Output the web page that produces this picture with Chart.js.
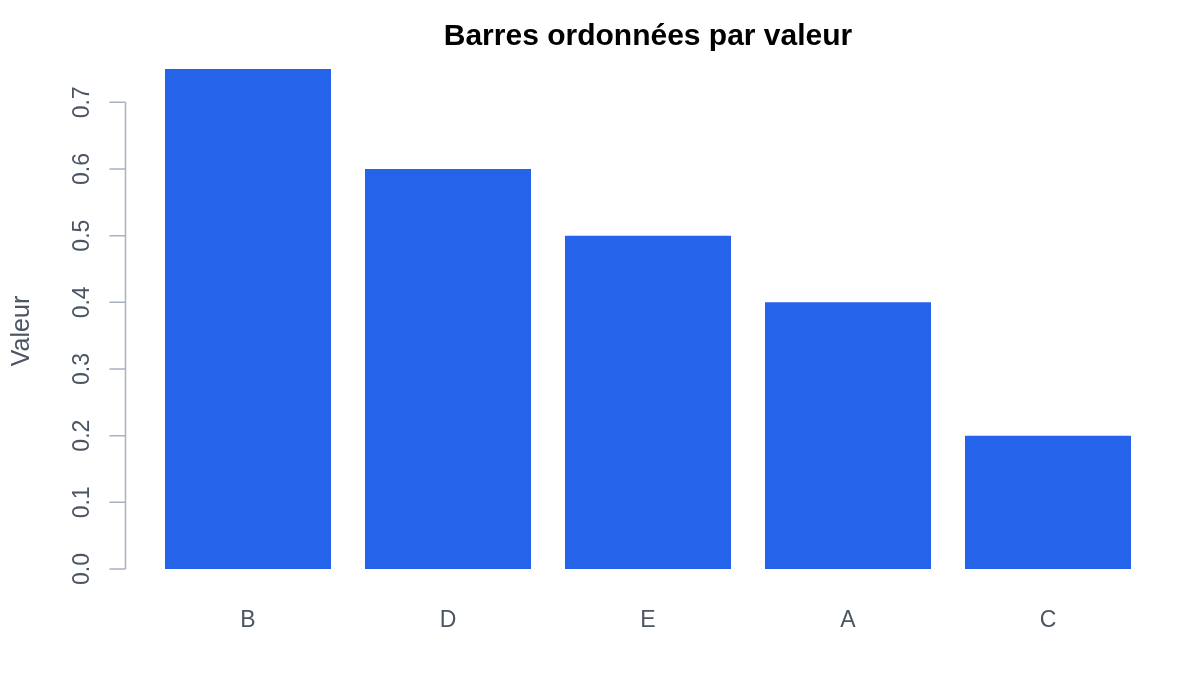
<!DOCTYPE html>
<html>
<head>
<meta charset="UTF-8">
<title>Barres ordonnées par valeur</title>
<script src="https://cdn.jsdelivr.net/npm/chart.js@4.4.1/dist/chart.umd.min.js"></script>
<style>
    html, body { margin: 0; padding: 0; background: #ffffff; }
    #wrap { width: 1200px; height: 700px; }
</style>
</head>
<body>
<div id="wrap"><canvas id="bars"></canvas></div>
<script>
    // data, already sorted by value
    var categories = ['B', 'D', 'E', 'A', 'C'];
    var values = [0.75, 0.6, 0.5, 0.4, 0.2];
    var yTicks = [0.0, 0.1, 0.2, 0.3, 0.4, 0.5, 0.6, 0.7];
    var yTitle = 'Valeur';

    var family = '"Liberation Sans", Helvetica, Arial, sans-serif';
    var textColor = '#4b5563';
    var axisColor = '#a9b1be';

    // R style y axis: detached line, outward ticks, rotated labels
    var leftAxis = {
        id: 'leftAxis',
        afterDraw: function (chart) {
            var ctx = chart.ctx;
            var y = chart.scales.y;
            var ax = chart.chartArea.left - 22.5;
            var top = y.getPixelForValue(yTicks[yTicks.length - 1]);
            var bot = y.getPixelForValue(yTicks[0]);
            ctx.save();
            ctx.strokeStyle = axisColor;
            ctx.lineWidth = 1.5;
            ctx.beginPath();
            ctx.moveTo(ax, top);
            ctx.lineTo(ax, bot);
            yTicks.forEach(function (v) {
                var py = y.getPixelForValue(v);
                ctx.moveTo(ax - 16, py);
                ctx.lineTo(ax, py);
            });
            ctx.stroke();

            ctx.fillStyle = textColor;
            ctx.font = '23px ' + family;
            ctx.textAlign = 'center';
            ctx.textBaseline = 'middle';
            yTicks.forEach(function (v) {
                var py = y.getPixelForValue(v);
                ctx.save();
                ctx.translate(ax - 43, py);
                ctx.rotate(-Math.PI / 2);
                ctx.fillText(v.toFixed(1), 0, 0);
                ctx.restore();
            });

            ctx.font = '25px ' + family;
            ctx.translate(22, (chart.chartArea.top + chart.chartArea.bottom) / 2 + 12);
            ctx.rotate(-Math.PI / 2);
            ctx.fillText(yTitle, 0, 0);
            ctx.restore();
        }
    };

    new Chart(document.getElementById('bars'), {
        type: 'bar',
        data: {
            labels: categories,
            datasets: [{
                data: values,
                backgroundColor: '#2563eb',
                borderWidth: 0,
                barPercentage: 0.83,
                categoryPercentage: 1.0
            }]
        },
        options: {
            responsive: true,
            maintainAspectRatio: false,
            animation: false,
            layout: { padding: { left: 148, right: 52, top: 0, bottom: 0 } },
            plugins: {
                legend: { display: false },
                tooltip: { enabled: false },
                title: {
                    display: true,
                    text: 'Barres ordonnées par valeur',
                    color: '#000000',
                    font: { family: family, size: 30, weight: 'bold', lineHeight: 1.2 },
                    padding: { top: 19, bottom: 14 }
                }
            },
            scales: {
                x: {
                    grid: { display: false, drawTicks: false },
                    border: { display: false },
                    ticks: {
                        color: textColor,
                        font: { family: family, size: 23 },
                        padding: 38
                    },
                    afterFit: function (s) { s.height = 131; }
                },
                y: {
                    display: false,
                    min: 0,
                    max: 0.75
                }
            }
        },
        plugins: [leftAxis]
    });
</script>
</body>
</html>
